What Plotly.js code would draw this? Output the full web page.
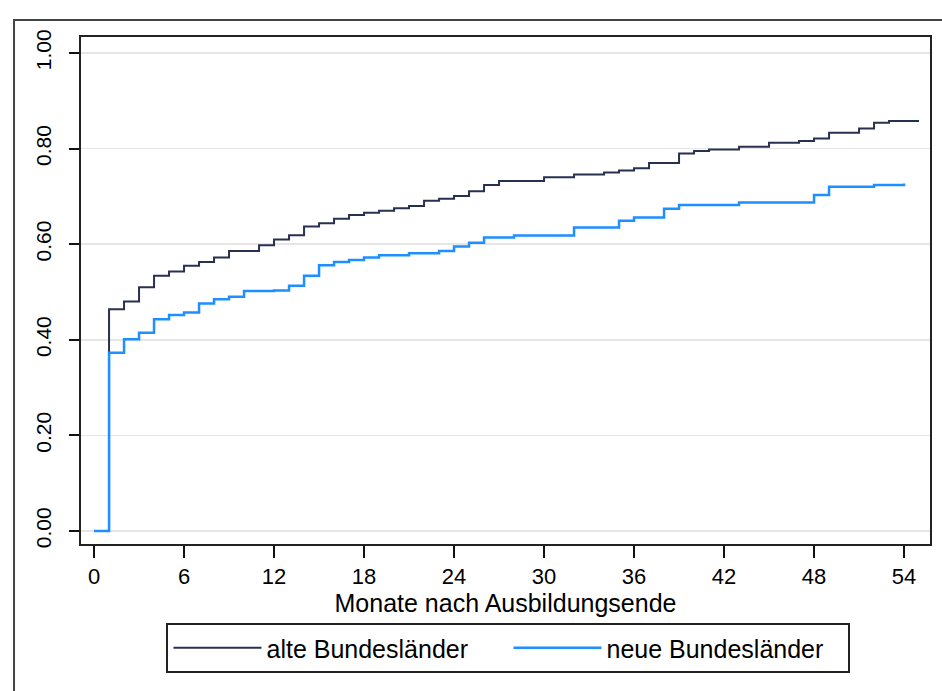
<!DOCTYPE html>
<html>
<head>
<meta charset="utf-8">
<script src="https://cdn.plot.ly/plotly-3.0.1.min.js"></script>
<style>html,body{margin:0;padding:0;background:#fff;}#chart{width:942px;height:691px;}</style>
</head>
<body>
<div id="chart"></div>
<script>
// Monate nach Ausbildungsende
const monthsAlte = [0,1,2,3,4,5,6,7,8,9,10,11,12,13,14,15,16,17,18,19,20,21,22,23,24,25,26,27,28,29,30,31,32,33,34,35,36,37,38,39,40,41,42,43,44,45,46,47,48,49,50,51,52,53,54,55];
const valuesAlte = [0,0.464,0.480,0.510,0.534,0.543,0.555,0.563,0.572,0.586,0.586,0.598,0.610,0.619,0.637,0.644,0.653,0.661,0.666,0.670,0.675,0.680,0.691,0.695,0.701,0.711,0.724,0.732,0.732,0.732,0.740,0.740,0.746,0.746,0.750,0.754,0.759,0.770,0.770,0.790,0.795,0.798,0.798,0.804,0.804,0.812,0.812,0.816,0.821,0.833,0.833,0.842,0.854,0.858,0.858,0.858];
const monthsNeue = [0,1,2,3,4,5,6,7,8,9,10,11,12,13,14,15,16,17,18,19,20,21,22,23,24,25,26,27,28,29,30,31,32,33,34,35,36,37,38,39,40,41,42,43,44,45,46,47,48,49,50,51,52,53,54];
const valuesNeue = [0,0.373,0.401,0.415,0.443,0.452,0.457,0.476,0.485,0.490,0.502,0.502,0.503,0.513,0.534,0.556,0.563,0.567,0.572,0.577,0.577,0.581,0.581,0.586,0.595,0.603,0.614,0.614,0.618,0.618,0.618,0.618,0.635,0.635,0.635,0.649,0.656,0.656,0.674,0.682,0.682,0.682,0.682,0.687,0.687,0.687,0.687,0.687,0.703,0.720,0.720,0.720,0.724,0.724,0.727];
const seriesNames = ["alte Bundesländer","neue Bundesländer"];
const xTicks = [0,6,12,18,24,30,36,42,48,54];
const yTicks = [0,0.2,0.4,0.6,0.8,1.0];
const yTickLabels = ["0.00","0.20","0.40","0.60","0.80","1.00"];

const font = "Liberation Sans, Arial, sans-serif";

const traces = [
  {x: monthsAlte, y: valuesAlte, name: seriesNames[0], type: "scatter", mode: "lines",
   line: {shape: "hv", color: "#27304f", width: 2}, legendrank: 1},
  {x: monthsNeue, y: valuesNeue, name: seriesNames[1], type: "scatter", mode: "lines",
   line: {shape: "hv", color: "#1e8fff", width: 2.5}, legendrank: 2}
];

const layout = {
  width: 942, height: 691,
  paper_bgcolor: "#ffffff", plot_bgcolor: "#ffffff",
  margin: {l: 81, r: 12, t: 37, b: 147},
  font: {family: font, color: "#000"},
  xaxis: {
    range: [-0.87, 55.73], tickvals: xTicks, ticks: "outside", ticklen: 12, tickwidth: 2, tickcolor: "#111",
    showgrid: false, zeroline: false, showline: true, linecolor: "#222", linewidth: 2, mirror: true,
    tickfont: {family: font, size: 22, color: "#000"},
    title: {text: "Monate nach Ausbildungsende", font: {family: font, size: 25, color: "#000"}, standoff: 0}
  },
  yaxis: {
    range: [-0.0272, 1.0335], tickvals: yTicks, ticktext: yTickLabels, ticks: "outside", ticklen: 10, tickwidth: 2, tickcolor: "#111",
    showgrid: true, gridcolor: "#e6e6e6", gridwidth: 1.5, zeroline: false,
    showline: true, linecolor: "#222", linewidth: 2, mirror: true, tickangle: -90, ticklabelstandoff: 10,
    tickfont: {family: "Liberation Sans Narrow, Liberation Sans, Arial, sans-serif", size: 21, color: "#000"}
  },
  showlegend: true,
  legend: {
    orientation: "h", x: 0.5035, xanchor: "center", y: -0.156, yanchor: "top",
    bordercolor: "#222", borderwidth: 2, bgcolor: "#fff",
    font: {family: font, size: 25, color: "#000"},
    itemwidth: 88,
    entrywidth: 237, entrywidthmode: "pixels", traceorder: "normal"
  },
  shapes: [
    {type: "rect", xref: "paper", yref: "paper", x0: -0.0789, x1: 1.03, y0: -0.32, y1: 1.0335,
     line: {color: "#444", width: 2}, fillcolor: "rgba(0,0,0,0)", layer: "below"}
  ]
};

Plotly.newPlot("chart", traces, layout, {displayModeBar: false, staticPlot: true});
</script>
</body>
</html>
